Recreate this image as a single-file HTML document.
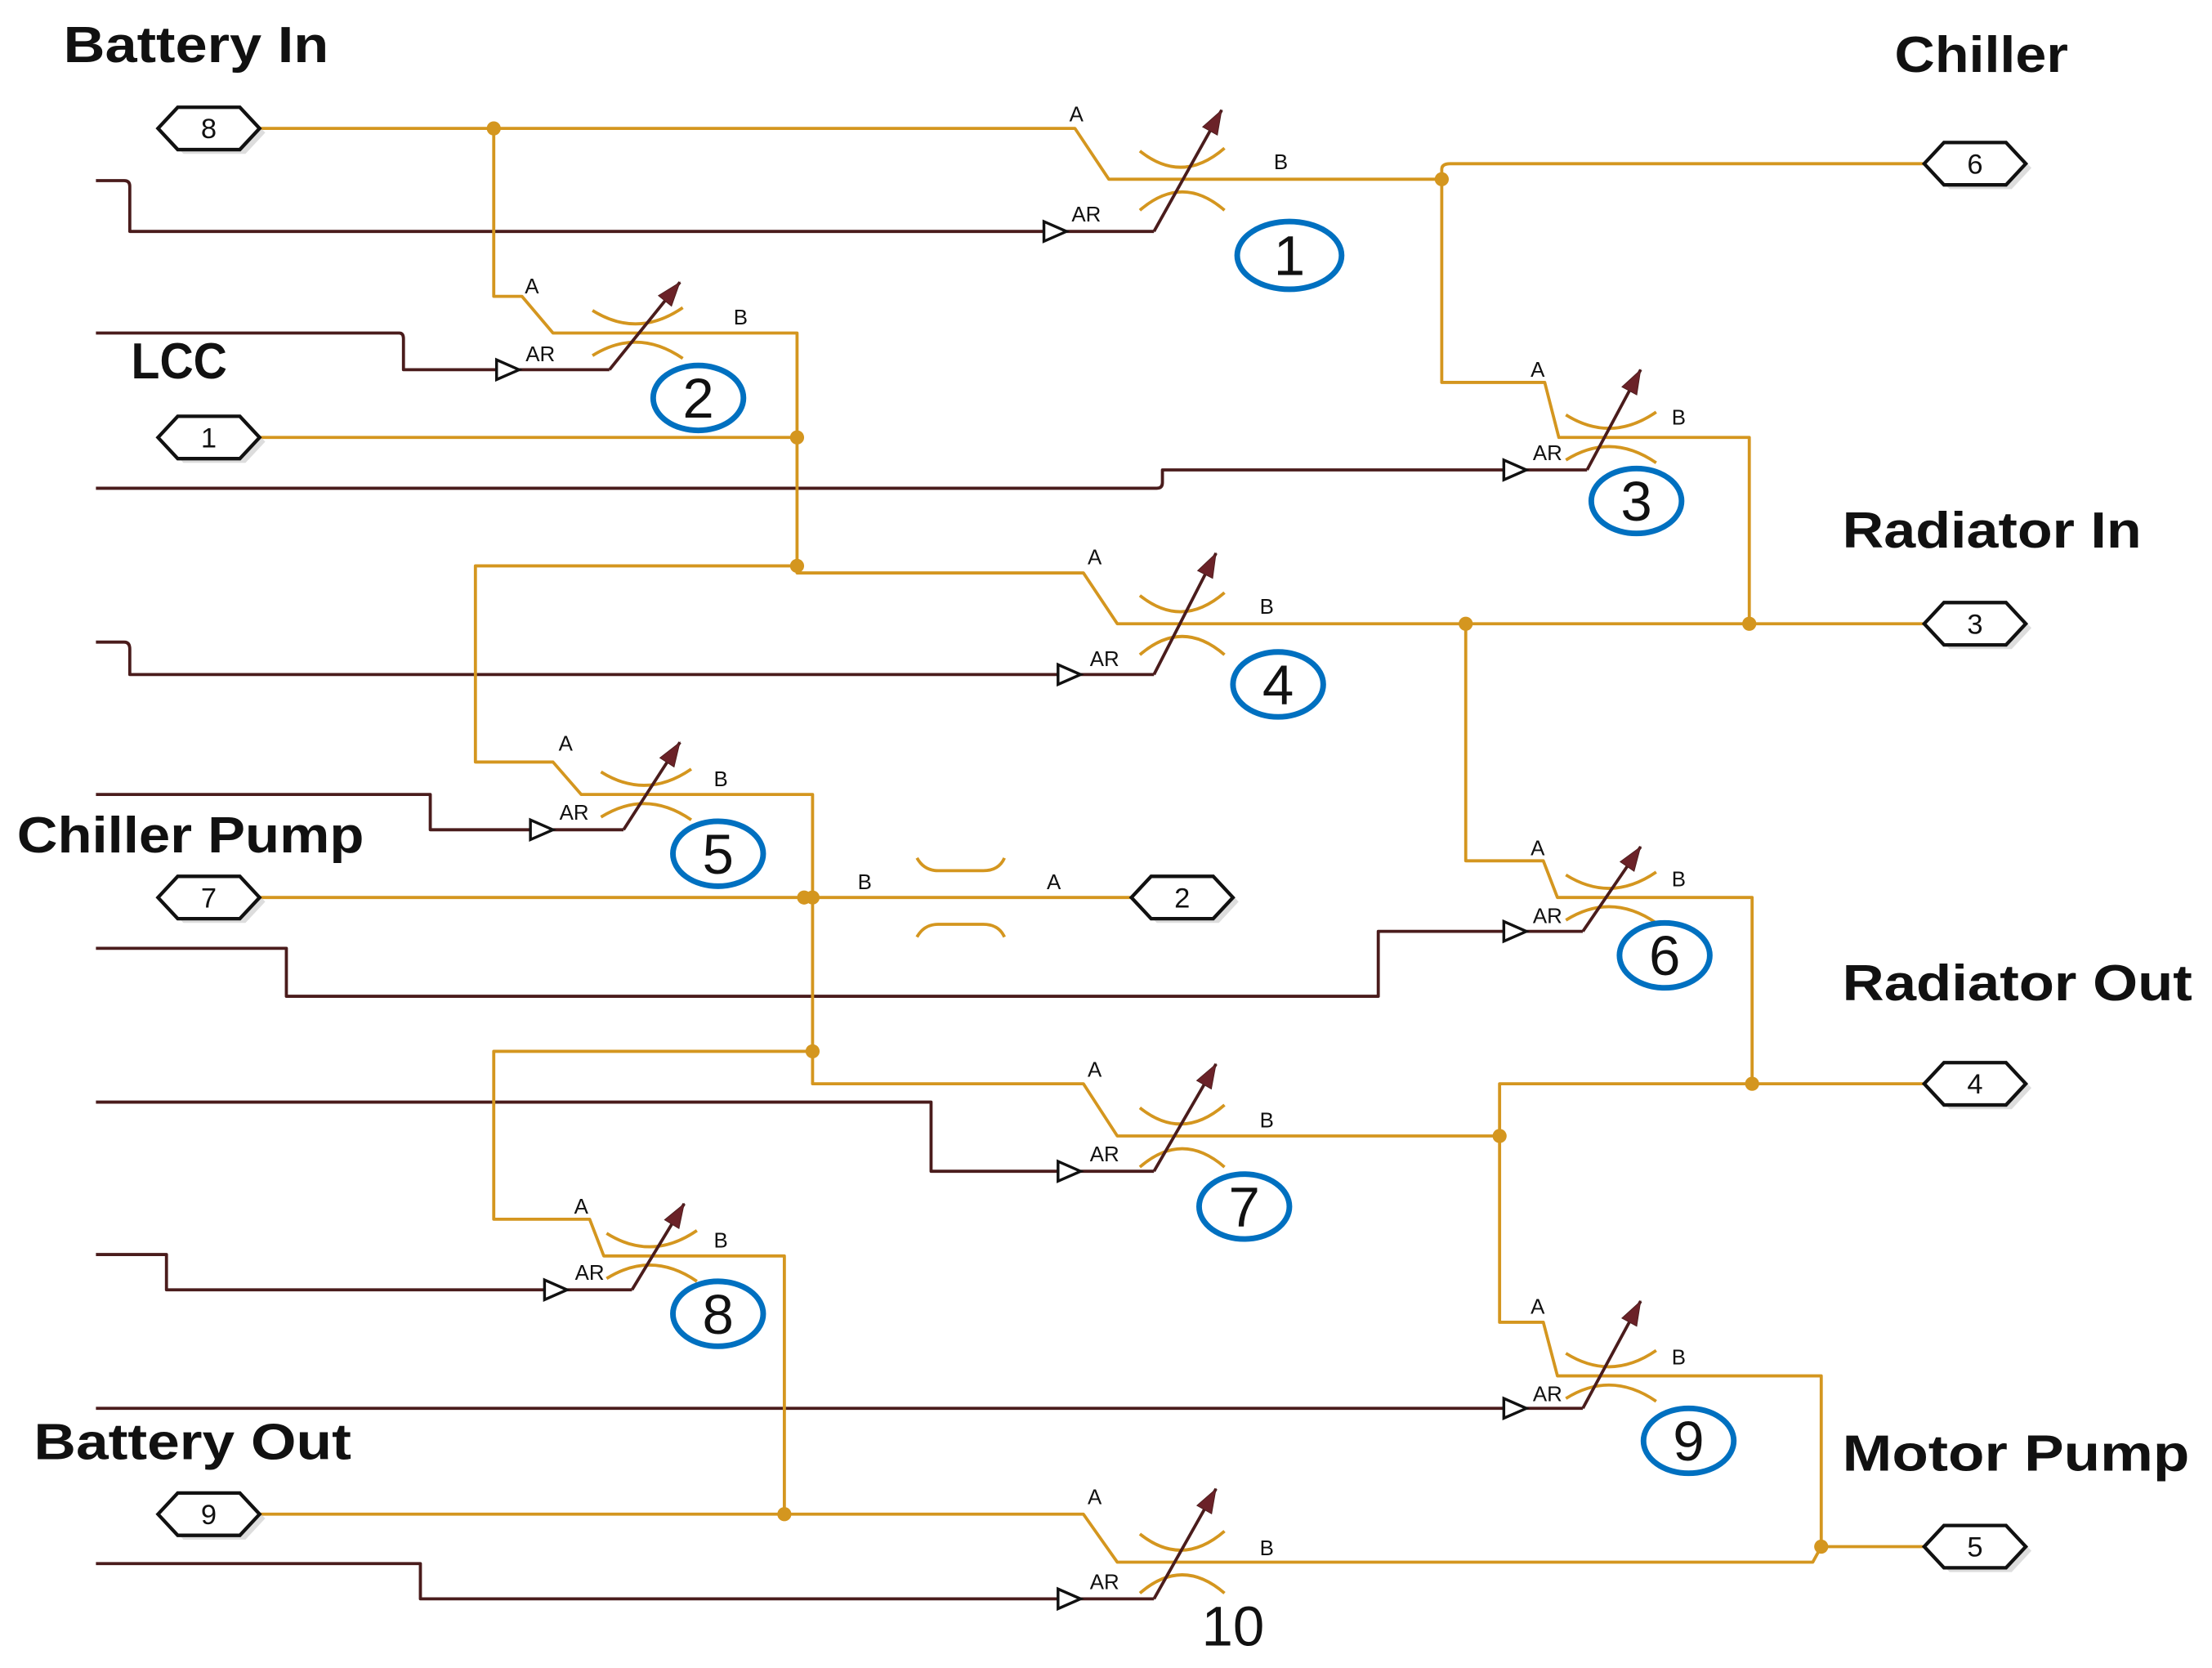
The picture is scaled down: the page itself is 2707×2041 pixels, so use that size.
<!DOCTYPE html>
<html><head><meta charset="utf-8"><style>
html,body{margin:0;padding:0;background:#fff;}
svg{display:block;}
.o{stroke:#D4961F;stroke-width:2.2;fill:none;stroke-linejoin:round;}
.m{stroke:#4A1C1C;stroke-width:2.2;fill:none;stroke-linejoin:round;}
.ar{stroke:#4A1C1C;stroke-width:2.2;fill:none;marker-end:url(#ah);}
.tri{fill:#fff;stroke:#111;stroke-width:2;}
.lbl{font-family:"Liberation Sans",sans-serif;font-size:15px;fill:#111;text-anchor:middle;}
.h{font-family:"Liberation Sans",sans-serif;font-weight:bold;font-size:36px;fill:#111;}
.num{font-family:"Liberation Sans",sans-serif;font-size:40px;fill:#111;text-anchor:middle;}
.el{fill:none;stroke:#0070C0;stroke-width:4;}
.pt{font-family:"Liberation Sans",sans-serif;font-size:20px;fill:#111;text-anchor:middle;}
</style></head><body>
<svg width="2707" height="2041" viewBox="0 0 1568 1182" preserveAspectRatio="none" xmlns="http://www.w3.org/2000/svg">
<defs>
<marker id="ah" viewBox="0 0 10 10" refX="9" refY="5" markerWidth="10" markerHeight="10" markerUnits="userSpaceOnUse" orient="auto" overflow="visible">
<path d="M-8 -1 L9 5 L-8 11 Z" fill="#6B2228" stroke="#4A1C1C" stroke-width="0.5"/>
</marker>
<g id="big"><path class="o" d="M-30 -20 Q0 4 30 -22 M-30 22 Q0 -4 30 22"/></g>
<g id="sm"><path class="o" d="M-32 -16 Q0 4 32 -18 M-32 16 Q0 -4 32 18"/></g>
<g id="hex">
<polygon points="-32,3 -18,-12 26,-12 40,3 26,18 -18,18" fill="#bbb" opacity="0.5"/>
<polygon points="-36,0 -22,-15 22,-15 36,0 22,15 -22,15" fill="#fff" stroke="#111" stroke-width="2.5"/>
</g>
</defs>

<path class="m" d="M68 128 H88 Q92 128 92 132 V164 H740"/>
<path class="m" d="M68 236 H283 Q286 236 286 240 V262 H352"/>
<path class="m" d="M68 346 H820 Q824 346 824 342 V333 H1066"/>
<path class="m" d="M68 455 H88 Q92 455 92 460 V478 H750"/>
<path class="m" d="M68 563 H305 V588 H376"/>
<path class="m" d="M68 672 H203 V706 H977 V660 H1066"/>
<path class="m" d="M68 781 H660 V830 H750"/>
<path class="m" d="M68 889 H118 V914 H386"/>
<path class="m" d="M68 998 H1066"/>
<path class="m" d="M68 1108 H298 V1133 H750"/>
<path class="m" d="M756 164 H818 M368 262 H432 M1082 333 H1125 M766 478 H818 M392 588 H442 M1082 660 H1122 M766 830 H818 M402 914 H448 M1082 998 H1122 M766 1133 H818"/>

<path class="o" d="M183 91 H762 L786 127 H1022"/>
<path class="o" d="M1022 127 V120 Q1022 116 1028 116 H1366"/>
<path class="o" d="M350 91 V210 H370 L392 236 H565 V406 H768 L792 442 H1366"/>
<path class="o" d="M183 310 H565"/>
<path class="o" d="M1022 127 V271 H1095 L1105 310 H1240 V442"/>
<path class="o" d="M565 401 H337 V540 H392 L412 563 H576 V768 H768 L792 805 H1063"/>
<path class="o" d="M1039 442 V610 H1094 L1104 636 H1242 V768"/>
<path class="o" d="M183 636 H805"/>
<path class="o" d="M576 745 H350 V864 H418 L428 890 H556 V1073"/>
<path class="o" d="M1366 768 H1063 V937 H1094 L1104 975 H1291 V1096 H1366"/>
<path class="o" d="M183 1073 H768 L792 1107 H1285 L1291 1096"/>
<path class="o" d="M650 608 Q655 617 665 617 H697 Q708 617 712 608 M650 664 Q655 655 665 655 H697 Q708 655 712 664"/>

<g fill="#D4961F">
<circle cx="350" cy="91" r="5"/><circle cx="1022" cy="127" r="5"/><circle cx="565" cy="310" r="5"/>
<circle cx="565" cy="401" r="5"/><circle cx="1039" cy="442" r="5"/><circle cx="1240" cy="442" r="5"/>
<circle cx="570" cy="636" r="5"/><circle cx="576" cy="636" r="5"/><circle cx="576" cy="745" r="5"/>
<circle cx="1242" cy="768" r="5"/><circle cx="1063" cy="805" r="5"/><circle cx="556" cy="1073" r="5"/>
<circle cx="1291" cy="1096" r="5"/>
</g>

<use href="#big" x="838" y="127"/>
<use href="#sm" x="452" y="236"/>
<use href="#sm" x="1142" y="310"/>
<use href="#big" x="838" y="442"/>
<use href="#sm" x="458" y="563"/>
<use href="#sm" x="1142" y="636"/>
<use href="#big" x="838" y="805"/>
<use href="#sm" x="462" y="890"/>
<use href="#sm" x="1142" y="975"/>
<use href="#big" x="838" y="1107"/>

<path class="ar" d="M818 164 L866 78"/>
<path class="ar" d="M432 262 L482 200"/>
<path class="ar" d="M1125 333 L1163 262"/>
<path class="ar" d="M818 478 L862 392"/>
<path class="ar" d="M442 588 L482 526"/>
<path class="ar" d="M1122 660 L1163 600"/>
<path class="ar" d="M818 830 L862 754"/>
<path class="ar" d="M448 914 L485 853"/>
<path class="ar" d="M1122 998 L1163 922"/>
<path class="ar" d="M818 1133 L862 1055"/>

<polygon class="tri" points="740,157 740,171 756,164"/>
<polygon class="tri" points="352,255 352,269 368,262"/>
<polygon class="tri" points="1066,326 1066,340 1082,333"/>
<polygon class="tri" points="750,471 750,485 766,478"/>
<polygon class="tri" points="376,581 376,595 392,588"/>
<polygon class="tri" points="1066,653 1066,667 1082,660"/>
<polygon class="tri" points="750,823 750,837 766,830"/>
<polygon class="tri" points="386,907 386,921 402,914"/>
<polygon class="tri" points="1066,991 1066,1005 1082,998"/>
<polygon class="tri" points="750,1126 750,1140 766,1133"/>

<g class="lbl">
<text x="763" y="86">A</text><text x="908" y="120">B</text><text x="770" y="157">AR</text>
<text x="377" y="208">A</text><text x="525" y="230">B</text><text x="383" y="256">AR</text>
<text x="1090" y="267">A</text><text x="1190" y="301">B</text><text x="1097" y="326">AR</text>
<text x="776" y="400">A</text><text x="898" y="435">B</text><text x="783" y="472">AR</text>
<text x="401" y="532">A</text><text x="511" y="557">B</text><text x="407" y="581">AR</text>
<text x="1090" y="606">A</text><text x="1190" y="628">B</text><text x="1097" y="654">AR</text>
<text x="776" y="763">A</text><text x="898" y="799">B</text><text x="783" y="823">AR</text>
<text x="412" y="860">A</text><text x="511" y="884">B</text><text x="418" y="907">AR</text>
<text x="1090" y="931">A</text><text x="1190" y="967">B</text><text x="1097" y="993">AR</text>
<text x="776" y="1066">A</text><text x="898" y="1102">B</text><text x="783" y="1126">AR</text>
<text x="613" y="630">B</text><text x="747" y="630">A</text>
</g>

<use href="#hex" x="148" y="91"/><use href="#hex" x="148" y="310"/><use href="#hex" x="148" y="636"/><use href="#hex" x="148" y="1073"/>
<use href="#hex" x="1400" y="116"/><use href="#hex" x="1400" y="442"/><use href="#hex" x="1400" y="768"/><use href="#hex" x="1400" y="1096"/>
<use href="#hex" x="838" y="636"/>
<g class="pt">
<text x="148" y="98">8</text><text x="148" y="317">1</text><text x="148" y="643">7</text><text x="148" y="1080">9</text>
<text x="1400" y="123">6</text><text x="1400" y="449">3</text><text x="1400" y="775">4</text><text x="1400" y="1103">5</text>
<text x="838" y="643">2</text>
</g>

<g>
<ellipse class="el" cx="914" cy="181" rx="37" ry="24"/><text class="num" x="914" y="195">1</text>
<ellipse class="el" cx="495" cy="282" rx="32" ry="23"/><text class="num" x="495" y="296">2</text>
<ellipse class="el" cx="1160" cy="355" rx="32" ry="23"/><text class="num" x="1160" y="369">3</text>
<ellipse class="el" cx="906" cy="485" rx="32" ry="23"/><text class="num" x="906" y="499">4</text>
<ellipse class="el" cx="509" cy="605" rx="32" ry="23"/><text class="num" x="509" y="619">5</text>
<ellipse class="el" cx="1180" cy="677" rx="32" ry="23"/><text class="num" x="1180" y="691">6</text>
<ellipse class="el" cx="882" cy="855" rx="32" ry="23"/><text class="num" x="882" y="869">7</text>
<ellipse class="el" cx="509" cy="931" rx="32" ry="23"/><text class="num" x="509" y="945">8</text>
<ellipse class="el" cx="1197" cy="1021" rx="32" ry="23"/><text class="num" x="1197" y="1035">9</text>
<text class="num" x="874" y="1166">10</text>
</g>

<text class="h" x="45" y="44" textLength="188" lengthAdjust="spacingAndGlyphs">Battery In</text>
<text class="h" x="1343" y="51" textLength="123" lengthAdjust="spacingAndGlyphs">Chiller</text>
<text class="h" x="93" y="268" textLength="68" lengthAdjust="spacingAndGlyphs">LCC</text>
<text class="h" x="1306" y="388" textLength="212" lengthAdjust="spacingAndGlyphs">Radiator In</text>
<text class="h" x="12" y="604" textLength="246" lengthAdjust="spacingAndGlyphs">Chiller Pump</text>
<text class="h" x="1306" y="709" textLength="248" lengthAdjust="spacingAndGlyphs">Radiator Out</text>
<text class="h" x="24" y="1034" textLength="225" lengthAdjust="spacingAndGlyphs">Battery Out</text>
<text class="h" x="1306" y="1042" textLength="246" lengthAdjust="spacingAndGlyphs">Motor Pump</text>
</svg>
</body></html>
